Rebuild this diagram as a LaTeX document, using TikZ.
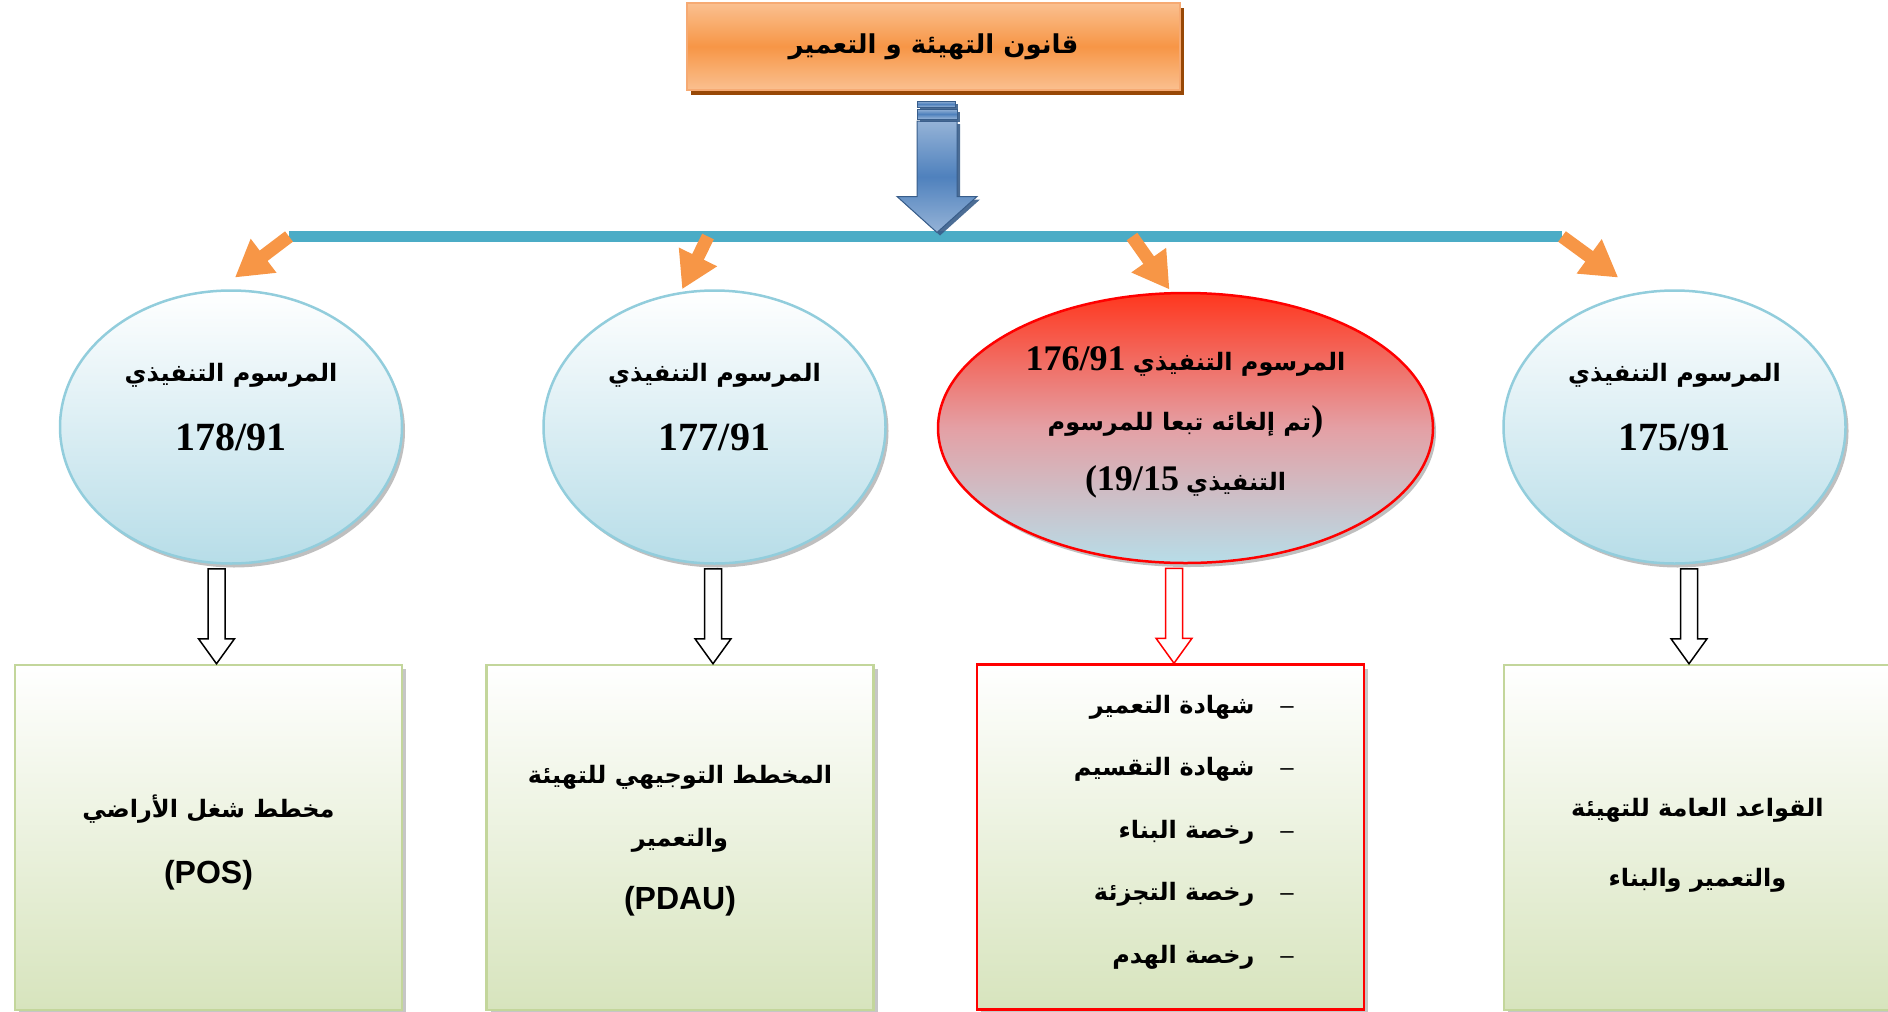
\documentclass[tikz,border=0pt]{standalone}
\usepackage{fontspec}
\usetikzlibrary{shapes.geometric,shadows,arrows.meta,calc}
\TeXXeTstate=1
\newfontfamily\arabicfont[Script=Arabic]{DejaVu Sans}
\newfontfamily\numfont{Liberation Serif}
\newfontfamily\latinfont{Liberation Sans}
\newcommand{\artxt}[1]{{\arabicfont\bfseries\beginR #1\endR}}
\newcommand{\numtxt}[1]{{\numfont\bfseries #1}}
\newcommand{\lattxt}[1]{{\latinfont\bfseries\fontsize{32}{66}\selectfont #1}}
\newcommand{\dashmark}{{\latinfont –}}

\definecolor{titletop}{RGB}{250,192,144}
\definecolor{titlemid}{RGB}{247,150,70}
\definecolor{titleline}{RGB}{246,170,115}
\definecolor{titleshadow}{RGB}{152,72,6}
\definecolor{barblue}{RGB}{75,172,198}
\definecolor{arrowblue}{RGB}{79,129,189}
\definecolor{arrowlight}{RGB}{149,179,215}
\definecolor{arrowline}{RGB}{56,93,138}
\definecolor{tiporange}{RGB}{247,150,70}
\definecolor{ovalblue}{RGB}{183,221,232}
\definecolor{ovalline}{RGB}{146,205,220}
\definecolor{ovalred}{RGB}{255,55,30}
\definecolor{ovalpink}{RGB}{228,160,165}
\definecolor{boxgreen}{RGB}{215,228,189}
\definecolor{boxline}{RGB}{195,214,155}

% hollow block arrow: from, to, xshift, colour
\newcommand{\hollowarrow}[4]{%
\draw[hollow, draw=#4] let \p1=([xshift=#3]#1.south), \p2=(#2.north) in
 (\x1-8.5pt,\y1-4pt) -- (\x1+8.5pt,\y1-4pt) -- (\x1+8.5pt,\y2+25pt)
 -- (\x1+18pt,\y2+25pt) -- (\x1,\y2) -- (\x1-18pt,\y2+25pt)
 -- (\x1-8.5pt,\y2+25pt) -- cycle;}

\tikzset{
 titlebox/.style={rectangle, inner sep=0pt, minimum width=493pt, minimum height=87pt,
  draw=titleline, line width=2pt, top color=titletop, bottom color=titletop, middle color=titlemid,
  drop shadow={shadow xshift=4pt, shadow yshift=-5pt, fill=titleshadow, opacity=1},
  font=\fontsize{26}{30}\selectfont},
 oval/.style={ellipse, inner sep=0pt, minimum width=342pt, minimum height=273pt,
  draw=ovalline, line width=2.5pt, top color=white, bottom color=ovalblue,
  drop shadow={shadow xshift=3pt, shadow yshift=-4pt, fill=black!50, opacity=.5}},
 redoval/.style={oval, draw=red, minimum width=495pt, minimum height=270pt,
  top color=ovalred, bottom color=ovalblue, middle color=ovalpink},
 leafbox/.style={rectangle, inner sep=0pt, minimum width=387pt, minimum height=345pt,
  draw=boxline, line width=2.5pt, top color=white, bottom color=boxgreen,
  drop shadow={shadow xshift=4pt, shadow yshift=-4pt, fill=black!50, opacity=.45}},
 redbox/.style={leafbox, draw=red},
 ovaltext/.style={align=center, inner sep=0pt, font=\fontsize{24}{69}\selectfont},
 boxtext/.style={align=center, inner sep=0pt, font=\fontsize{24}{66}\selectfont},
 listtext/.style={align=right, inner sep=0pt, font=\fontsize{24}{62.5}\selectfont},
 bar/.style={draw=barblue, line width=11pt},
 feed/.style={draw=tiporange, line width=13pt, -{Triangle[width=40pt,length=36pt]}},
 bluearrow/.style={draw=arrowline, line width=1pt, top color=arrowlight, bottom color=arrowlight,
  middle color=arrowblue, drop shadow={shadow xshift=3pt, shadow yshift=-3pt, fill=arrowline, opacity=.9}},
 hollow/.style={line width=1.5pt, fill=white}
}

\begin{document}
\begin{tikzpicture}[x=1pt,y=-1pt]
\useasboundingbox (0,0) rectangle (1888,1012);

\node[titlebox] (title) at (933.5,46.5) {\artxt{قانون التهيئة و التعمير}};

\coordinate (barL) at (289,236.5);
\coordinate (barR) at (1562,236.5);
\coordinate (o177) at (708,236.5);
\coordinate (o176) at (1132,236.5);
\draw[bar] (barL) -- (barR);

% blue arrow with two stripes
\path[bluearrow] let \p1=(title.south), \p2=(barL) in
 (\x1-16.5pt,\y1-30pt) -- (\x1+23.5pt,\y1-30pt) -- (\x1+23.5pt,\y2+40pt)
 -- (\x1+43.5pt,\y2+40pt) -- (\x1+3.5pt,\y2+4pt) -- (\x1-36.5pt,\y2+40pt)
 -- (\x1-16.5pt,\y2+40pt) -- cycle;
\path[bluearrow] let \p1=(title.south) in
 (\x1-16.5pt,\y1-10pt) rectangle (\x1+21.5pt,\y1-16pt);
\path[bluearrow] let \p1=(title.south) in
 (\x1-16.5pt,\y1-18pt) rectangle (\x1+23.5pt,\y1-28pt);

% decrees
\node[oval] (e178) at (231,427) {};
\node[oval] (e177) at (714.5,427) {};
\node[redoval] (e176) at (1185.5,428) {};
\node[oval] (e175) at (1674.5,427) {};

\node[ovaltext] at ([yshift=20pt]e178.center) {\artxt{المرسوم التنفيذي}\\ {\fontsize{40}{69}\selectfont\numtxt{178/91}}};
\node[ovaltext] at ([yshift=20pt]e177.center) {\artxt{المرسوم التنفيذي}\\ {\fontsize{40}{69}\selectfont\numtxt{177/91}}};
\node[ovaltext, font=\fontsize{24}{60}\selectfont] at ([yshift=6pt]e176.center)
 {{\fontsize{36}{60}\selectfont\numtxt{176/91}} \artxt{المرسوم التنفيذي}\\
  \artxt{تم إلغائه تبعا للمرسوم}{\fontsize{36}{60}\selectfont\numtxt{)}}\\
  {\fontsize{36}{60}\selectfont\numtxt{(19/15}} \artxt{التنفيذي}};
\node[ovaltext] at ([yshift=20pt]e175.center) {\artxt{المرسوم التنفيذي}\\ {\fontsize{40}{69}\selectfont\numtxt{175/91}}};

\draw[feed, shorten >=20pt] (barL) -- (e178.95);
\draw[feed, shorten >=3pt] (o177) -- (e177.104);
\draw[feed, shorten >=3pt] (o176) -- (e176.96);
\draw[feed, shorten >=25pt] (barR) -- (e175.105);

% tools
\node[leafbox] (pos) at (208.5,837.5) {};
\node[leafbox] (pdau) at (680,837.5) {};
\node[redbox] (permits) at (1170.5,837) {};
\node[leafbox] (rules) at (1697.5,837.5) {};

\node[boxtext] at ([yshift=-5pt]pos.center) {\artxt{مخطط شغل الأراضي}\\ \lattxt{(POS)}};
\node[boxtext, font=\fontsize{24}{63}\selectfont] at ([yshift=-3pt]pdau.center) {\artxt{المخطط التوجيهي للتهيئة}\\ \artxt{والتعمير}\\ \lattxt{(PDAU)}};
\node[listtext, anchor=east] at (1294,832) {%
 \artxt{شهادة التعمير}\hspace{26pt}\dashmark\\
 \artxt{شهادة التقسيم}\hspace{26pt}\dashmark\\
 \artxt{رخصة البناء}\hspace{26pt}\dashmark\\
 \artxt{رخصة التجزئة}\hspace{26pt}\dashmark\\
 \artxt{رخصة الهدم}\hspace{26pt}\dashmark};
\node[boxtext, font=\fontsize{24}{70}\selectfont] at ([yshift=-8pt]rules.center) {\artxt{القواعد العامة للتهيئة}\\ \artxt{والتعمير والبناء}};

\hollowarrow{e178}{pos}{-14.5pt}{black}
\hollowarrow{e177}{pdau}{-1.5pt}{black}
\hollowarrow{e176}{permits}{-11.5pt}{red}
\hollowarrow{e175}{rules}{14.5pt}{black}
\end{tikzpicture}
\end{document}
